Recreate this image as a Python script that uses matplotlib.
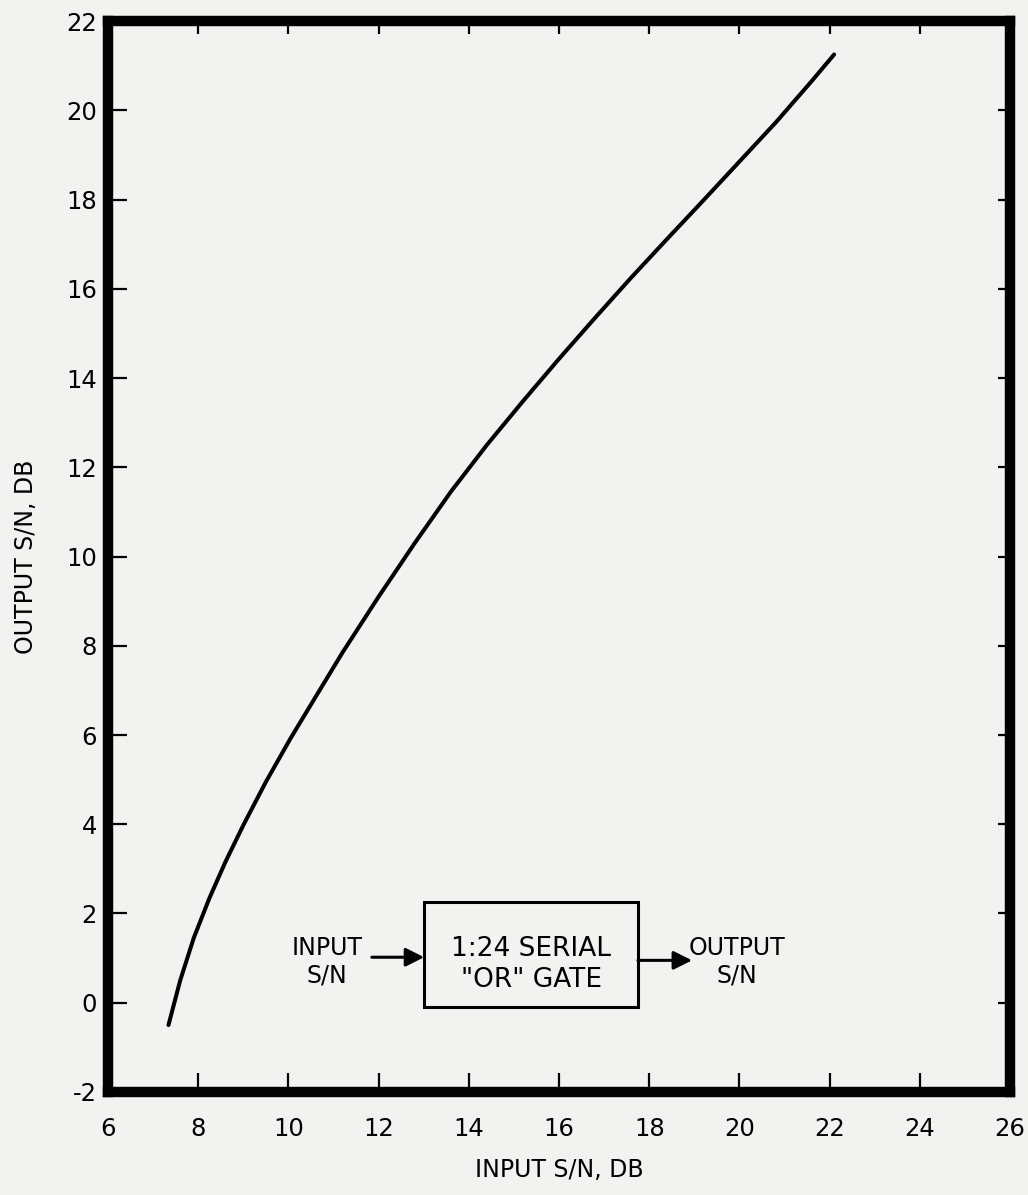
import matplotlib
matplotlib.use("Agg")
import matplotlib.pyplot as plt
from matplotlib.patches import Rectangle

# ---- data ----
input_sn = [7.34, 7.60, 7.90, 8.25, 8.60, 9.00, 9.50, 10.05, 10.60, 11.20,
            12.00, 12.80, 13.60, 14.40, 15.20, 16.00, 16.80, 17.60, 18.40,
            19.20, 20.00, 20.80, 21.60, 22.10]
output_sn = [-0.50, 0.50, 1.45, 2.35, 3.15, 3.98, 4.95, 5.93, 6.85, 7.85,
             9.10, 10.30, 11.45, 12.50, 13.48, 14.43, 15.35, 16.25, 17.12,
             17.98, 18.85, 19.72, 20.65, 21.25]
x_ticks = [6, 8, 10, 12, 14, 16, 18, 20, 22, 24, 26]
y_ticks = [-2, 0, 2, 4, 6, 8, 10, 12, 14, 16, 18, 20, 22]
x_label = "INPUT S/N, DB"
y_label = "OUTPUT S/N, DB"
box_lines = ["1:24 SERIAL", "\"OR\" GATE"]
in_text = "INPUT\nS/N"
out_text = "OUTPUT\nS/N"

bg = "#f2f2f0"
plt.rcParams["font.family"] = ["DejaVu Sans"]

fig = plt.figure(figsize=(10.28, 11.95), dpi=100, facecolor=bg)
ax = fig.add_axes([0.1051, 0.0862, 0.8774, 0.8962], facecolor=bg)

ax.plot(input_sn, output_sn, color="black", lw=2.9, solid_capstyle="round",
        solid_joinstyle="round")

ax.set_xlim(6, 26)
ax.set_ylim(-2, 22)
ax.set_xticks(x_ticks)
ax.set_yticks(y_ticks)
ax.set_xticklabels([str(v) for v in x_ticks])
ax.set_yticklabels([str(v) for v in y_ticks])

for s in ax.spines.values():
    s.set_linewidth(7.5)
    s.set_color("black")
    s.set_capstyle("projecting")

ax.tick_params(axis="both", direction="in", length=14, width=1.6,
               labelsize=17.5, colors="black")
ax.tick_params(axis="x", pad=18)
ax.tick_params(axis="y", pad=8)

# shorter ticks on top and right sides
sec_x = ax.secondary_xaxis("top")
sec_x.set_xticks(x_ticks)
sec_x.tick_params(direction="in", length=9, width=1.6, labeltop=False)
sec_x.spines["top"].set_visible(False)
sec_y = ax.secondary_yaxis("right")
sec_y.set_yticks(y_ticks)
sec_y.tick_params(direction="in", length=9, width=1.6, labelright=False)
sec_y.spines["right"].set_visible(False)

ax.set_xlabel(x_label, fontsize=17, labelpad=12)
ax.set_ylabel(y_label, fontsize=17, labelpad=20)

# block diagram inset
ax.add_patch(Rectangle((13.01, -0.09), 4.74, 2.35, fill=False,
                       edgecolor="black", lw=2.2, zorder=3))
ax.text(15.38, 1.20, box_lines[0], ha="center", va="center", fontsize=19)
ax.text(15.38, 0.52, box_lines[1], ha="center", va="center", fontsize=19)
ax.text(10.86, 0.92, in_text, ha="center", va="center", fontsize=17,
        linespacing=1.15)
ax.text(19.95, 0.92, out_text, ha="center", va="center", fontsize=17,
        linespacing=1.15)
ax.annotate("", xy=(13.01, 1.02), xytext=(11.85, 1.02),
            arrowprops=dict(arrowstyle="-|>", lw=2.2, color="black",
                            mutation_scale=28, shrinkA=0, shrinkB=0))
ax.annotate("", xy=(18.95, 0.95), xytext=(17.75, 0.95),
            arrowprops=dict(arrowstyle="-|>", lw=2.2, color="black",
                            mutation_scale=28, shrinkA=0, shrinkB=0))

fig.savefig("out.png", dpi=100, facecolor=bg)
